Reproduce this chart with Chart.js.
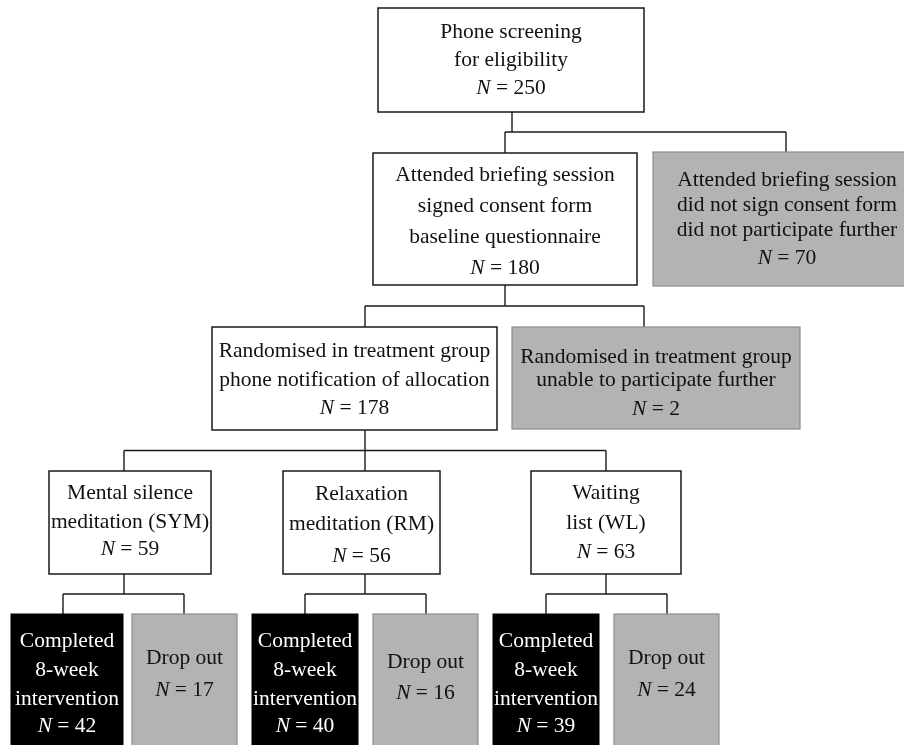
<!DOCTYPE html>
<html>
<head>
<meta charset="utf-8">
<script src="https://cdn.jsdelivr.net/npm/chart.js@4/dist/chart.umd.min.js"></script>
<style>
  html, body { margin: 0; padding: 0; background: #fff; }
  #wrap { width: 904px; height: 745px; }
</style>
</head>
<body>
<div id="wrap"><canvas id="flow" width="904" height="745"></canvas></div>
<script>
// --- content of the flow diagram ---
const boxText = [
  ['Phone screening', 'for eligibility'],
  ['Attended briefing session', 'signed consent form', 'baseline questionnaire'],
  ['Attended briefing session', 'did not sign consent form', 'did not participate further'],
  ['Randomised in treatment group', 'phone notification of allocation'],
  ['Randomised in treatment group', 'unable to participate further'],
  ['Mental silence', 'meditation (SYM)'],
  ['Relaxation', 'meditation (RM)'],
  ['Waiting', 'list (WL)'],
  ['Completed', '8-week', 'intervention'],
  ['Drop out'],
  ['Completed', '8-week', 'intervention'],
  ['Drop out'],
  ['Completed', '8-week', 'intervention'],
  ['Drop out']
];
const boxCount = [250, 180, 70, 178, 2, 59, 56, 63, 42, 17, 40, 16, 39, 24];
const boxKind = ['in', 'in', 'out', 'in', 'out', 'in', 'in', 'in', 'done', 'out', 'done', 'out', 'done', 'out'];
// parent index -> children indexes
const links = [
  [0, [1, 2]],
  [1, [3, 4]],
  [3, [5, 6, 7]],
  [5, [8, 9]],
  [6, [10, 11]],
  [7, [12, 13]]
];

// --- layout (diagram units, mapped through the chart scales) ---
const boxRect = [
  [378, 8, 644, 112],
  [373, 153, 637, 285],
  [653, 152, 921, 286],
  [212, 327, 497, 430],
  [512, 327, 800, 429],
  [49, 471, 211, 574],
  [283, 471, 440, 574],
  [531, 471, 681, 574],
  [11, 614, 123, 760],
  [132, 614, 237, 760],
  [252, 614, 358, 760],
  [373, 614, 478, 760],
  [493, 614, 599, 760],
  [614, 614, 719, 760]
];
const boxRows = [
  [32, 60, 88],
  [175, 206, 237, 268],
  [180, 205, 230, 258],
  [351, 380, 408],
  [357, 380, 409],
  [493, 522, 549],
  [494, 524, 556],
  [493, 523, 552],
  [641, 670, 699, 726],
  [658, 690],
  [641, 670, 699, 726],
  [662, 693],
  [641, 670, 699, 726],
  [658, 690]
];
const boxAnchor = [512, 505, 786, 365, 644, 124, 365, 606, 63, 184, 305, 426, 546, 667];

const kindStyle = {
  in:   { fill: '#ffffff', stroke: '#1a1a1a', width: 1.5, text: '#111111' },
  out:  { fill: '#b3b3b3', stroke: '#8c8c8c', width: 1.2, text: '#111111' },
  done: { fill: '#000000', stroke: '#000000', width: 1, text: '#ffffff' }
};
const fontFamily = '"Liberation Serif", "DejaVu Serif", serif';
const fontSize = 21.5;

// connectors: stem from parent, bar, drops to each child
let connectorSets = [];
links.forEach(function (l) {
  let p = l[0];
  let kids = l[1];
  let yTop = boxRect[p][3];
  let yKids = Math.min.apply(null, kids.map(k => boxRect[k][1]));
  let yBar = (yTop + yKids) / 2;
  let xs = kids.map(k => boxAnchor[k]).concat([boxAnchor[p]]);
  connectorSets.push([{ x: boxAnchor[p], y: yTop }, { x: boxAnchor[p], y: yBar }]);
  connectorSets.push([{ x: Math.min.apply(null, xs), y: yBar }, { x: Math.max.apply(null, xs), y: yBar }]);
  kids.forEach(function (k) {
    connectorSets.push([{ x: boxAnchor[k], y: yBar }, { x: boxAnchor[k], y: boxRect[k][1] }]);
  });
});

const boxPlugin = {
  id: 'boxes',
  afterDatasetsDraw(chart) {
    const ctx = chart.ctx;
    const xs = chart.scales.x;
    const ys = chart.scales.y;
    ctx.save();
    for (let i = 0; i < boxRect.length; i++) {
      let r = boxRect[i];
      let st = kindStyle[boxKind[i]];
      let x0 = xs.getPixelForValue(r[0]);
      let x1 = xs.getPixelForValue(r[2]);
      let y0 = ys.getPixelForValue(r[1]);
      let y1 = ys.getPixelForValue(r[3]);
      ctx.fillStyle = st.fill;
      ctx.fillRect(x0, y0, x1 - x0, y1 - y0);
      ctx.strokeStyle = st.stroke;
      ctx.lineWidth = st.width;
      ctx.strokeRect(x0, y0, x1 - x0, y1 - y0);

      let cx = (x0 + x1) / 2;
      ctx.fillStyle = st.text;
      ctx.textBaseline = 'middle';
      ctx.textAlign = 'left';
      let lines = boxText[i];
      for (let j = 0; j < lines.length; j++) {
        ctx.font = fontSize + 'px ' + fontFamily;
        let w = ctx.measureText(lines[j]).width;
        ctx.fillText(lines[j], cx - w / 2, ys.getPixelForValue(boxRows[i][j]));
      }
      // N = value line, with italic N
      let yN = ys.getPixelForValue(boxRows[i][lines.length]);
      ctx.font = 'italic ' + fontSize + 'px ' + fontFamily;
      let wN = ctx.measureText('N').width;
      ctx.font = fontSize + 'px ' + fontFamily;
      let rest = ' = ' + boxCount[i];
      let wR = ctx.measureText(rest).width;
      let sx = cx - (wN + wR) / 2;
      ctx.font = 'italic ' + fontSize + 'px ' + fontFamily;
      ctx.fillText('N', sx, yN);
      ctx.font = fontSize + 'px ' + fontFamily;
      ctx.fillText(rest, sx + wN, yN);
    }
    ctx.restore();
  }
};

new Chart(document.getElementById('flow'), {
  type: 'scatter',
  data: {
    datasets: connectorSets.map(pts => ({
      data: pts,
      showLine: true,
      borderColor: '#1a1a1a',
      borderWidth: 1.4,
      pointRadius: 0,
      fill: false
    }))
  },
  options: {
    responsive: false,
    animation: false,
    layout: { padding: 0 },
    plugins: { legend: { display: false }, tooltip: { enabled: false } },
    scales: {
      x: { type: 'linear', min: 0, max: 904, display: false },
      y: { type: 'linear', min: 0, max: 745, reverse: true, display: false }
    }
  },
  plugins: [boxPlugin]
});
</script>
</body>
</html>
